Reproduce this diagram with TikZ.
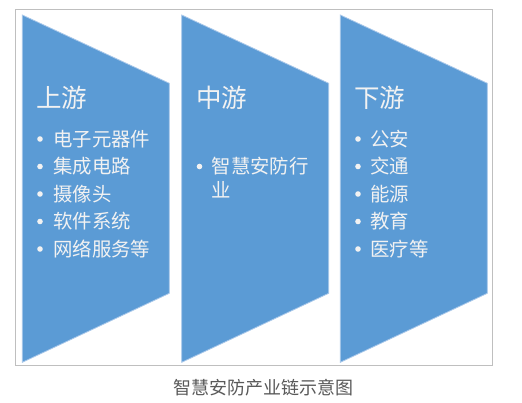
\documentclass[tikz,border=0pt]{standalone}
\usepackage{fontspec}
\newfontfamily\cjk{Noto Sans CJK SC}
\definecolor{chainblue}{HTML}{5B9BD5}
\definecolor{chainedge}{HTML}{A9C8EA}
\definecolor{chaintext}{HTML}{F2F2F2}
\definecolor{framegray}{HTML}{BFBFBF}
\definecolor{capgray}{HTML}{595959}
\begin{document}
\begin{tikzpicture}[x=1pt,y=-1pt,
  chevron/.style={fill=chainblue,draw=chainedge,line width=0.8pt},
  stagetitle/.style={anchor=west,inner sep=0pt,text=chaintext,font=\cjk\fontsize{25.5}{30}\selectfont},
  item/.style={anchor=west,inner sep=0pt,text=chaintext,font=\cjk\fontsize{19.4}{23}\selectfont},
  dot/.style={circle,fill=chaintext,inner sep=0pt,minimum size=5.6pt},
  caption/.style={inner sep=0pt,text=capgray,font=\cjk\fontsize{18}{20}\selectfont}]
\useasboundingbox (0,0) rectangle (522,403);
\fill[white] (0,0) rectangle (522,403);
\draw[framegray,line width=1pt] (15.5,10) rectangle (492.7,365.7);
% chevrons
\foreach \dx/\nm in {0/up,159.4/mid,318/down}{
  \draw[chevron] (22.3+\dx,15) -- (169.3+\dx,83.3) -- (169.3+\dx,293.3) -- (22.3+\dx,362.3) -- cycle;
}
% titles
\node[stagetitle] (tup) at (36,98) {上游};
\node[stagetitle] (tmid) at (196,98) {中游};
\node[stagetitle] (tdown) at (354,98) {下游};
% upstream items
\foreach \y/\t [count=\i] in {139/电子元器件,166.5/集成电路,194/摄像头,221.5/软件系统,249/网络服务等}{
  \node[dot] (ubul\i) at (40,\y) {};
  \node[item] (uit\i) at (53,\y) {\t};
}
% midstream
\node[dot] (mbul1) at (199.5,166.5) {};
\node[item] (mit1) at (211.5,166.5) {智慧安防行};
\node[item] (mit2) at (211.5,190) {业};
% downstream items
\foreach \y/\t [count=\i] in {139/公安,166.5/交通,194/能源,221.5/教育,249/医疗等}{
  \node[dot] (dbul\i) at (358,\y) {};
  \node[item] (dit\i) at (370,\y) {\t};
}
\node[caption] (cap) at (263,388) {智慧安防产业链示意图};
\end{tikzpicture}
\end{document}
